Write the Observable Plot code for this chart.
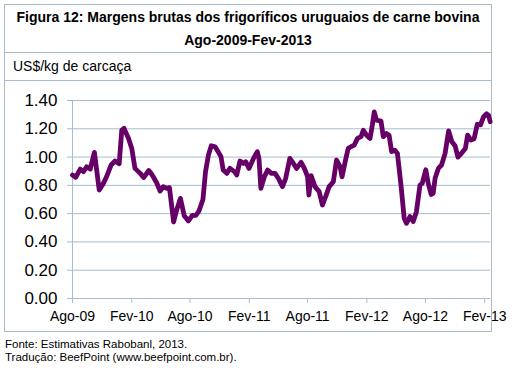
<!DOCTYPE html>
<html>
<head>
<meta charset="utf-8">
<script src="https://cdn.jsdelivr.net/npm/d3@7"></script>
<script src="https://cdn.jsdelivr.net/npm/@observablehq/plot@0.6"></script>
<style>
  html, body { margin: 0; padding: 0; background: #fff; }
  body { width: 520px; height: 368px; position: relative; font-family: "Liberation Sans", Arial, sans-serif; color: #000; }
  #box { position: absolute; left: 4px; top: 4px; width: 486px; border: 1px solid #a6bcd1; }
  #title { height: 46px; padding-top: 1px; border-bottom: 1px solid #a6bcd1; text-align: center; font-weight: bold; font-size: 14px; line-height: 23px; }
  #sub { height: 27px; border-bottom: 1px solid #a6bcd1; padding-left: 8px; font-size: 14px; line-height: 27px; }
  #chart { height: 250px; }
  #chart svg { display: block; }
  #foot { position: absolute; left: 5px; top: 338px; font-size: 11.5px; line-height: 13px; }
</style>
</head>
<body>
<div id="box">
  <div id="title">Figura 12: Margens brutas dos frigoríficos uruguaios de carne bovina<br>Ago-2009-Fev-2013</div>
  <div id="sub">US$/kg de carcaça</div>
  <div id="chart"></div>
</div>
<div id="foot">Fonte: Estimativas Rabobanl, 2013.<br>Tradução: BeefPoint (www.beefpoint.com.br).</div>
<script>
const dates = [
  "2009-08-01","2009-08-11","2009-08-25","2009-09-04","2009-09-14","2009-09-25","2009-10-08","2009-10-23","2009-11-05","2009-11-15",
  "2009-11-29","2009-12-11","2009-12-24","2010-01-01","2010-01-08","2010-01-22","2010-02-01","2010-02-11","2010-02-28","2010-03-10",
  "2010-03-26","2010-04-05","2010-04-19","2010-04-30","2010-05-10","2010-05-21","2010-05-29","2010-06-11","2010-06-21","2010-07-02",
  "2010-07-14","2010-07-27","2010-08-08","2010-08-19","2010-08-29","2010-09-10","2010-09-18","2010-09-27","2010-10-06","2010-10-18",
  "2010-10-28","2010-11-05","2010-11-12","2010-11-23","2010-12-03","2010-12-17","2010-12-24","2011-01-03","2011-01-14","2011-01-21",
  "2011-01-31","2011-02-14","2011-02-26","2011-03-03","2011-03-09","2011-03-20","2011-03-30","2011-04-11","2011-04-22","2011-05-02",
  "2011-05-15","2011-05-25","2011-06-07","2011-06-18","2011-06-28","2011-07-12","2011-07-22","2011-08-01","2011-08-05","2011-08-12",
  "2011-08-24","2011-09-06","2011-09-16","2011-09-26","2011-10-07","2011-10-20","2011-10-30","2011-11-10","2011-11-16","2011-11-26",
  "2011-12-05","2011-12-14","2011-12-24","2012-01-03","2012-01-14","2012-01-21","2012-01-31","2012-02-11","2012-02-18","2012-02-24",
  "2012-03-02","2012-03-16","2012-03-23","2012-04-02","2012-04-10","2012-04-18","2012-04-28","2012-05-06","2012-05-17","2012-05-27",
  "2012-06-03","2012-06-14","2012-06-24","2012-07-04","2012-07-15","2012-07-22","2012-08-02","2012-08-10","2012-08-19","2012-08-25",
  "2012-08-31","2012-09-10","2012-09-20","2012-10-01","2012-10-12","2012-10-22","2012-11-01","2012-11-10","2012-11-22","2012-12-03",
  "2012-12-10","2012-12-20","2012-12-30","2013-01-09","2013-01-19","2013-01-28","2013-02-07","2013-02-13","2013-02-18"
];
const margins = [
  0.873,0.857,0.915,0.897,0.932,0.915,1.033,0.767,0.814,0.862,
  0.944,0.972,0.953,1.19,1.203,1.132,1.061,0.92,0.883,0.855,
  0.905,0.875,0.82,0.76,0.79,0.779,0.784,0.541,0.63,0.708,
  0.585,0.548,0.588,0.588,0.62,0.70,0.895,1.014,1.08,1.073,
  1.035,1.003,0.908,0.885,0.92,0.897,0.873,0.972,0.955,0.967,
  0.92,0.99,1.038,0.99,0.779,0.862,0.908,0.885,0.885,0.85,
  0.791,0.85,0.991,0.955,0.92,0.963,0.92,0.862,0.732,0.869,
  0.791,0.756,0.661,0.72,0.791,0.826,0.979,0.932,0.86,0.97,
  1.061,1.073,1.085,1.132,1.144,1.19,1.155,1.132,1.226,1.32,
  1.261,1.254,1.144,1.167,1.155,1.038,1.049,1.026,0.802,0.567,
  0.532,0.579,0.544,0.614,0.802,0.814,0.91,0.81,0.735,0.744,
  0.85,0.92,0.944,1.026,1.185,1.109,1.08,1.0,1.03,1.061,
  1.155,1.12,1.13,1.232,1.228,1.283,1.306,1.295,1.25
];
const tickDates = ["2009-08-01","2010-02-01","2010-08-01","2011-02-01","2011-08-01","2012-02-01","2012-08-01","2013-02-01"];
const tickLabels = ["Ago-09","Fev-10","Ago-10","Fev-11","Ago-11","Fev-12","Ago-12","Fev-13"];
const yTicks = [0, 0.2, 0.4, 0.6, 0.8, 1.0, 1.2, 1.4];

const data = dates.map((d, i) => ({date: new Date(d), value: margins[i]}));
const xTicks = tickDates.map(d => new Date(d));
const labelOf = new Map(xTicks.map((d, i) => [+d, tickLabels[i]]));
const gridColor = "#a6bcd1";

const chart = Plot.plot({
  width: 486,
  height: 250,
  marginLeft: 67,
  marginRight: 1,
  marginTop: 19,
  marginBottom: 33,
  style: {fontFamily: "'Liberation Sans', Arial, sans-serif", background: "transparent", overflow: "visible"},
  x: {type: "utc", domain: [new Date("2009-08-01"), new Date("2013-02-19")]},
  y: {domain: [0, 1.4]},
  marks: [
    Plot.gridY(yTicks, {stroke: gridColor, strokeOpacity: 1, strokeWidth: 1}),
    Plot.ruleX([new Date("2009-08-01")], {stroke: gridColor, strokeWidth: 1}),
    Plot.axisY(yTicks, {tickSize: 5, tickPadding: 10, stroke: gridColor, strokeOpacity: 1, fill: "#000", fontSize: 17, tickFormat: d3.format(".2f"), label: null}),
    Plot.axisX(xTicks, {tickSize: 5, tickPadding: 8, stroke: gridColor, strokeOpacity: 1, fill: "#000", fontSize: 14, tickFormat: d => labelOf.get(+d), label: null}),
    Plot.line(data, {x: "date", y: "value", stroke: "#660066", strokeWidth: 4.8, strokeLinejoin: "round", strokeLinecap: "round"})
  ]
});
document.getElementById("chart").appendChild(chart);
</script>
</body>
</html>
